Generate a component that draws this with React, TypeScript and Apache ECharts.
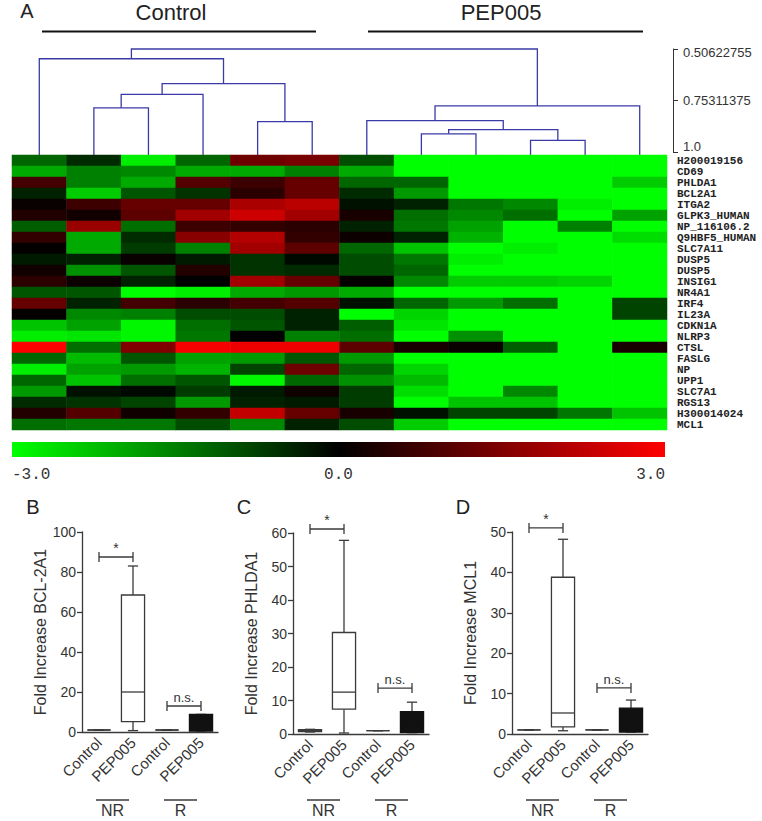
import React, { useEffect, useRef } from "react";
import * as echarts from "echarts";

const FONT = "'Liberation Sans', Arial, sans-serif";
const MONO = "'Liberation Mono', 'DejaVu Sans Mono', monospace";

// ---------- Heatmap data ----------
const genes = [
  "H200019156", "CD69", "PHLDA1", "BCL2A1", "ITGA2", "GLPK3_HUMAN", "NP_116106.2",
  "Q9HBF5_HUMAN", "SLC7A11", "DUSP5", "DUSP5", "INSIG1", "NR4A1", "IRF4", "IL23A",
  "CDKN1A", "NLRP3", "CTSL", "FASLG", "NP", "UPP1", "SLC7A1", "RGS13", "H300014024", "MCL1",
];
const sampleColumns = [
  "Control 1", "Control 2", "Control 3", "Control 4", "Control 5", "Control 6",
  "PEP005 1", "PEP005 2", "PEP005 3", "PEP005 4", "PEP005 5", "PEP005 6",
];
const expression: number[][] = [
  [-1.2, -0.5, -2.8, -1.2, 1.3, 1.4, -0.9, -3, -3, -3, -3, -3],
  [-2.0, -1.5, -1.6, -2.0, -2.0, -1.5, -2.0, -3, -3, -3, -3, -3],
  [0.8, -1.5, -2.0, 1.0, 0.7, 1.2, -1.2, -1.2, -3, -3, -3, -2.4],
  [-0.4, -2.4, -1.0, -0.6, 0.5, 1.2, -0.5, -1.8, -3, -3, -3, -3],
  [0.1, 0.7, 1.2, 1.2, 2.0, 2.2, -0.2, -0.4, -1.4, -1.6, -2.8, -3],
  [0.4, 0.2, 1.1, 1.9, 2.4, 1.9, 0.3, -1.3, -1.6, -1.3, -3, -1.9],
  [-1.1, 1.8, -1.3, 0.7, 0.6, 0.5, -0.4, -1.4, -1.9, -3, -1.5, -3],
  [0.6, -2.0, -0.5, 1.6, 2.1, 0.6, 0.15, -0.4, -2.1, -3, -3, -2.6],
  [0.05, -2.0, -0.7, -1.5, 1.9, 1.1, -1.2, -2.3, -3, -2.8, -3, -3],
  [-0.3, -0.4, 0.1, -0.3, -0.6, -0.1, -0.9, -1.4, -2.8, -3, -3, -3],
  [0.2, -1.7, -1.0, 0.4, -0.6, -0.5, -0.9, -1.2, -3, -3, -3, -3],
  [0.5, 0.15, -0.4, 0.0, 1.9, 1.2, 0.05, -1.6, -2.4, -2.4, -2.5, -3],
  [-1.0, -1.0, -3, -2.8, -2.0, -1.8, -2.0, -3, -3, -3, -3, -3],
  [1.2, -0.4, 0.8, 0.5, 0.8, 1.0, -0.2, -1.2, -1.8, -1.3, -3, -0.8],
  [0.05, -1.6, -1.5, -0.9, -0.9, -0.4, -3, -2.5, -3, -3, -3, -0.8],
  [-2.3, -1.9, -2.9, -1.3, -1.0, -0.4, -1.1, -2.7, -3, -3, -3, -3],
  [-2.8, -2.7, -2.9, -1.4, 0.0, -1.5, -1.3, -3, -1.7, -3, -3, -3],
  [3.0, -1.3, 1.5, 2.9, 2.8, 2.8, 1.1, 0.3, 0.1, -1.1, -3, 0.3],
  [-1.2, -2.2, -1.0, -1.9, -1.8, -1.0, -1.8, -3, -3, -3, -3, -3],
  [-2.8, -1.9, -1.8, -2.1, -0.8, 1.3, -1.2, -2.5, -3, -3, -3, -3],
  [-1.2, -2.3, -1.3, -1.0, -2.9, -1.2, -1.7, -2.2, -3, -3, -3, -3],
  [-1.8, -0.2, -0.1, -0.7, -0.3, 0.2, -0.7, -2.6, -3, -1.6, -3, -3],
  [-0.5, -0.6, -0.8, -1.8, -0.4, -0.3, -0.7, -3, -2.3, -2.3, -3, -3],
  [0.4, 1.0, 0.2, 0.6, 2.3, 1.2, 0.3, -0.2, -0.8, -0.8, -1.4, -2.3],
  [-1.3, -1.4, -1.4, -0.9, -1.6, -0.4, -0.9, -2.4, -3, -3, -3, -3],
];
const colorScale = ["#00ff00", "#000000", "#ff0000"];
const colorMin = -3;
const colorMax = 3;
const colorbarLabels = ["-3.0", "0.0", "3.0"];

// ---------- Dendrogram ----------
const leafHeight = 1.0;
// [left child, right child, merge height]; leaves are 0-11, merged nodes are numbered 12+
const dendroMerges: [number, number, number][] = [
  [1, 2, 0.788],
  [12, 3, 0.724],
  [4, 5, 0.854],
  [13, 14, 0.672],
  [0, 15, 0.553],
  [7, 8, 0.913],
  [9, 10, 0.944],
  [17, 18, 0.893],
  [6, 19, 0.85],
  [20, 11, 0.779],
  [16, 21, 0.50622755],
];
const distanceTicks = [0.50622755, 0.75311375, 1.0];
const distanceLabels = ["0.50622755", "0.75311375", "1.0"];

// ---------- Box plots ----------
const boxCategories = ["Control", "PEP005", "Control", "PEP005"];
const boxGroups = ["NR", "R"];
const boxFilled = [0, 0, 0, 1];
// [min, Q1, median, Q3, max]
const bcl2a1Box = [
  [1, 1, 1, 1, 1],
  [0.7, 5.2, 20, 68.5, 83],
  [1, 1, 1, 1, 1],
  [0.5, 0.5, 4, 8.8, 8.8],
];
const phlda1Box = [
  [0.6, 0.7, 1, 1.3, 1.4],
  [0.3, 7.4, 12.5, 30.3, 57.8],
  [1, 1, 1, 1, 1],
  [0.4, 0.4, 3, 6.7, 9.5],
];
const mcl1Box = [
  [1, 1, 1, 1, 1],
  [0.8, 1.75, 5.2, 38.8, 48.2],
  [1, 1, 1, 1, 1],
  [0.5, 0.5, 3, 6.4, 8.4],
];
const sigLabels = ["*", "n.s."];
// [from category, to category, bracket value]
const bcl2a1Sig = [[0, 1, 87.5], [2, 3, 13]];
const phlda1Sig = [[0, 1, 61.2], [2, 3, 13.7]];
const mcl1Sig = [[0, 1, 51], [2, 3, 11.4]];

const panels = [
  { letter: "B", title: "Fold Increase BCL-2A1", box: bcl2a1Box, sig: bcl2a1Sig, max: 100, interval: 20, left: 82, top: 532, height: 200 },
  { letter: "C", title: "Fold Increase PHLDA1", box: phlda1Box, sig: phlda1Sig, max: 60, interval: 10, left: 293, top: 533, height: 201 },
  { letter: "D", title: "Fold Increase MCL1", box: mcl1Box, sig: mcl1Sig, max: 50, interval: 10, left: 512, top: 532, height: 202 },
];

const AX = "#3a3a3a";

function buildDendroSegments() {
  const xs: number[] = [];
  const hs: number[] = [];
  for (let i = 0; i < sampleColumns.length; i++) {
    xs.push(i + 0.5);
    hs.push(leafHeight);
  }
  const segs: number[][] = [];
  dendroMerges.forEach(([l, r, h]) => {
    segs.push([xs[l], hs[l], xs[r], hs[r], h]);
    xs.push((xs[l] + xs[r]) / 2);
    hs.push(h);
  });
  return segs;
}

export default function App() {
  const ref = useRef<HTMLDivElement>(null);

  useEffect(() => {
    if (!ref.current) return;
    const chart = echarts.init(ref.current, undefined, { renderer: "svg" });

    const heatData: number[][] = [];
    expression.forEach((row, r) => row.forEach((v, c) => heatData.push([c, r, v])));

    const grids: any[] = [
      { left: 12, top: 49, width: 655, height: 103 },
      { left: 12, top: 155, width: 655, height: 275 },
      ...panels.map((p) => ({ left: p.left, top: p.top, width: 136, height: p.height })),
    ];

    const xAxes: any[] = [
      { type: "value", gridIndex: 0, min: 0, max: sampleColumns.length, show: false },
      { type: "category", gridIndex: 1, data: sampleColumns, show: false },
      ...panels.map((p, i) => ({
        type: "category",
        gridIndex: 2 + i,
        data: boxCategories,
        axisLine: { lineStyle: { color: AX, width: 1.3 } },
        axisTick: { alignWithLabel: true, length: 5, lineStyle: { color: AX, width: 1.3 } },
        axisLabel: { rotate: 45, interval: 0, fontSize: 15, color: "#333", margin: 8, fontFamily: FONT },
      })),
    ];

    const yAxes: any[] = [
      {
        type: "value",
        gridIndex: 0,
        inverse: true,
        min: distanceTicks[0],
        max: distanceTicks[distanceTicks.length - 1],
        position: "right",
        offset: 6,
        splitLine: { show: false },
        axisLine: { show: true, onZero: false, lineStyle: { color: "#333", width: 1 } },
        axisTick: { show: true, customValues: distanceTicks, length: 5, lineStyle: { color: "#333", width: 1 } },
        axisLabel: {
          customValues: distanceTicks,
          fontSize: 13,
          color: "#333",
          margin: 10,
          fontFamily: FONT,
          formatter: (v: number) => {
            let best = 0;
            distanceTicks.forEach((t, i) => {
              if (Math.abs(t - v) < Math.abs(distanceTicks[best] - v)) best = i;
            });
            const key = best === 0 ? "first" : best === distanceTicks.length - 1 ? "last" : "mid";
            return "{" + key + "|" + distanceLabels[best] + "}";
          },
          rich: {
            first: { fontSize: 13, color: "#333", fontFamily: FONT, padding: [6, 0, 0, 0] },
            mid: { fontSize: 13, color: "#333", fontFamily: FONT },
            last: { fontSize: 13, color: "#333", fontFamily: FONT, padding: [0, 0, 12, 0] },
          },
        },
      },
      {
        type: "category",
        gridIndex: 1,
        data: genes,
        inverse: true,
        position: "right",
        axisLine: { show: false },
        axisTick: { show: false },
        axisLabel: { fontFamily: MONO, fontWeight: "bold", fontSize: 11, color: "#222", margin: 10, interval: 0 },
      },
      ...panels.map((p, i) => ({
        type: "value",
        gridIndex: 2 + i,
        min: 0,
        max: p.max,
        interval: p.interval,
        splitLine: { show: false },
        axisLine: { show: true, lineStyle: { color: AX, width: 1.3 } },
        axisTick: { show: true, length: 5, lineStyle: { color: AX, width: 1.3 } },
        axisLabel: { fontSize: 14, color: "#333", margin: 6, fontFamily: FONT },
        name: p.title,
        nameLocation: "middle",
        nameGap: 34,
        nameTextStyle: { fontSize: 16, color: "#333", fontFamily: FONT },
      })),
    ];

    const boxSeries = panels.map((p, i) => ({
      type: "custom",
      xAxisIndex: 2 + i,
      yAxisIndex: 2 + i,
      clip: false,
      data: p.box.map((b, k) => [k, ...b, boxFilled[k]]),
      renderItem: (params: any, api: any) => {
        const cat = api.value(0);
        const mn = api.value(1), q1 = api.value(2), md = api.value(3), q3 = api.value(4), mx = api.value(5);
        const filled = api.value(6) === 1;
        const band = api.size([1, 0])[0];
        const bw = band * 0.68;
        const cw = band * 0.3;
        const cx = api.coord([cat, md])[0];
        const y = (v: number) => api.coord([cat, v])[1];
        const ls = { stroke: AX, lineWidth: 1.3 };
        return {
          type: "group",
          children: [
            { type: "line", shape: { x1: cx, y1: y(q3), x2: cx, y2: y(mx) }, style: ls },
            { type: "line", shape: { x1: cx - cw / 2, y1: y(mx), x2: cx + cw / 2, y2: y(mx) }, style: ls },
            { type: "line", shape: { x1: cx, y1: y(q1), x2: cx, y2: y(mn) }, style: ls },
            { type: "line", shape: { x1: cx - cw / 2, y1: y(mn), x2: cx + cw / 2, y2: y(mn) }, style: ls },
            {
              type: "rect",
              shape: { x: cx - bw / 2, y: y(q3), width: bw, height: y(q1) - y(q3) },
              style: { fill: filled ? "#111" : "#fff", stroke: filled ? "#111" : AX, lineWidth: 1.3 },
            },
            { type: "line", shape: { x1: cx - bw / 2, y1: y(md), x2: cx + bw / 2, y2: y(md) }, style: { stroke: filled ? "#111" : AX, lineWidth: 1.3 } },
          ],
        };
      },
    }));

    const sigSeries = panels.map((p, i) => ({
      type: "custom",
      xAxisIndex: 2 + i,
      yAxisIndex: 2 + i,
      clip: false,
      data: p.sig,
      renderItem: (params: any, api: any) => {
        const a = api.coord([api.value(0), api.value(2)]);
        const b = api.coord([api.value(1), api.value(2)]);
        const ls = { stroke: AX, lineWidth: 1.3 };
        const label = sigLabels[params.dataIndex];
        return {
          type: "group",
          children: [
            { type: "line", shape: { x1: a[0], y1: a[1], x2: b[0], y2: b[1] }, style: ls },
            { type: "line", shape: { x1: a[0], y1: a[1] - 5, x2: a[0], y2: a[1] + 5 }, style: ls },
            { type: "line", shape: { x1: b[0], y1: b[1] - 5, x2: b[0], y2: b[1] + 5 }, style: ls },
            {
              type: "text",
              x: (a[0] + b[0]) / 2,
              y: a[1] - 2,
              style: {
                text: label,
                fill: "#333",
                fontSize: label === "*" ? 14 : 13,
                fontFamily: FONT,
                align: "center",
                verticalAlign: "bottom",
                textAlign: "center",
                textVerticalAlign: "bottom",
              },
            },
          ],
        };
      },
    }));

    chart.setOption({
      animation: false,
      backgroundColor: "#fff",
      grid: grids,
      xAxis: xAxes,
      yAxis: yAxes,
      visualMap: {
        type: "continuous",
        show: false,
        min: colorMin,
        max: colorMax,
        dimension: 2,
        seriesIndex: 1,
        inRange: { color: colorScale },
      },
      series: [
        {
          type: "custom",
          xAxisIndex: 0,
          yAxisIndex: 0,
          clip: false,
          data: buildDendroSegments(),
          renderItem: (params: any, api: any) => {
            const a = api.coord([api.value(0), api.value(1)]);
            const b = api.coord([api.value(0), api.value(4)]);
            const c = api.coord([api.value(2), api.value(4)]);
            const d = api.coord([api.value(2), api.value(3)]);
            // leaf stubs run down to the top edge of the heatmap
            if (api.value(1) === leafHeight) a[1] += 3;
            if (api.value(3) === leafHeight) d[1] += 3;
            return {
              type: "polyline",
              shape: { points: [a, b, c, d] },
              style: { stroke: "#3b3ba6", lineWidth: 1.3, fill: null },
            };
          },
        },
        {
          type: "heatmap",
          xAxisIndex: 1,
          yAxisIndex: 1,
          data: heatData,
          itemStyle: { borderWidth: 0 },
          emphasis: { disabled: true },
          progressive: 0,
        },
        ...boxSeries,
        ...sigSeries,
      ],
    });

    const txt = (text: string, x: number, y: number, size: number, extra: any = {}) => ({
      type: "text",
      x,
      y,
      style: {
        text,
        fill: "#111",
        fontSize: size,
        fontFamily: FONT,
        align: "center",
        verticalAlign: "middle",
        textAlign: "center",
        textVerticalAlign: "middle",
        ...extra,
      },
    });

    const elements: any[] = [
      txt("A", 27, 11, 20, { fill: "#222" }),
      txt("Control", 171, 12, 22, { fill: "#222" }),
      txt("PEP005", 501, 12, 22, { fill: "#222" }),
      { type: "line", shape: { x1: 42, y1: 31.5, x2: 316, y2: 31.5 }, style: { stroke: "#111", lineWidth: 2 } },
      { type: "line", shape: { x1: 368, y1: 31.5, x2: 643, y2: 31.5 }, style: { stroke: "#111", lineWidth: 2 } },
      {
        type: "rect",
        shape: { x: 12, y: 442, width: 653, height: 15 },
        style: {
          fill: {
            type: "linear",
            x: 0,
            y: 0,
            x2: 1,
            y2: 0,
            colorStops: colorScale.map((c, i) => ({ offset: i / (colorScale.length - 1), color: c })),
          },
        },
      },
      txt(colorbarLabels[0], 12, 475, 16, { fontFamily: MONO, fill: "#333", align: "left", textAlign: "left" }),
      txt(colorbarLabels[1], 338.5, 475, 16, { fontFamily: MONO, fill: "#333" }),
      txt(colorbarLabels[2], 665, 475, 16, { fontFamily: MONO, fill: "#333", align: "right", textAlign: "right" }),
    ];

    panels.forEach((p, i) => {
      elements.push(txt(p.letter, p.left - 49, 507, 20, { fill: "#222" }));
      boxGroups.forEach((g, gi) => {
        const xa = chart.convertToPixel({ xAxisIndex: 2 + i } as any, gi * 2) as unknown as number;
        const xb = chart.convertToPixel({ xAxisIndex: 2 + i } as any, gi * 2 + 1) as unknown as number;
        const s = xa - 3;
        const e = xb - 4;
        elements.push({ type: "line", shape: { x1: s, y1: 800, x2: e, y2: 800 }, style: { stroke: AX, lineWidth: 1.3 } });
        elements.push(txt(g, (s + e) / 2, 810, 16, { fill: "#333" }));
      });
    });

    chart.setOption({ graphic: { elements } });

    return () => chart.dispose();
  }, []);

  return <div ref={ref} style={{ position: "absolute", left: 0, top: 0, width: 762, height: 821 }} />;
}
